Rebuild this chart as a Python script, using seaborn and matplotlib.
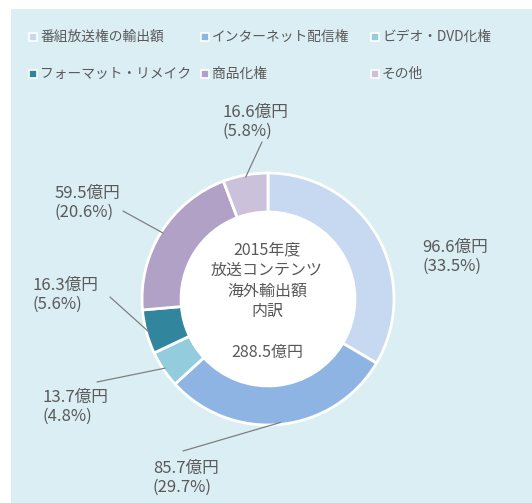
import numpy as np
import matplotlib
matplotlib.use("Agg")
import matplotlib.pyplot as plt
from matplotlib.patches import Rectangle
import seaborn as sns

# Export value breakdown (億円)
categories = ["番組放送権の輸出額", "インターネット配信権", "ビデオ・DVD化権",
              "フォーマット・リメイク", "商品化権", "その他"]
values = [96.6, 85.7, 13.7, 16.3, 59.5, 16.6]
shares = [33.5, 29.7, 4.8, 5.6, 20.6, 5.8]
total_label = "288.5億円"
center_lines = ["2015年度", "放送コンテンツ", "海外輸出額", "内訳", "", total_label]
colors = ["#C6D9F0", "#8EB4E3", "#93CDDD", "#31859C", "#B2A1C7", "#CCC1DA"]

sns.set_theme(style="white")
plt.rcParams["font.family"] = ["Noto Sans CJK JP", "DejaVu Sans"]

W, H = 532, 503
fig = plt.figure(figsize=(W / 100, H / 100), dpi=100)
ax = fig.add_axes([0, 0, 1, 1])

text_color = "#595959"

# light panel behind the chart
ax.add_patch(Rectangle((11, 0), W - 11, H - 9, facecolor="#DAEEF3",
                       edgecolor="none", zorder=0))

# donut
cx, cy, r_out = 268, H - 299, 126
ring = 0.31
wedges, _ = ax.pie(values, colors=colors, startangle=90, counterclock=False,
                   center=(cx, cy), radius=r_out, frame=True,
                   wedgeprops=dict(width=r_out * ring, edgecolor="white",
                                   linewidth=2))
ax.set_xlim(0, W)
ax.set_ylim(0, H)
ax.set_aspect("equal")
ax.axis("off")
ax.add_patch(plt.Circle((cx, cy), r_out * (1 - ring) - 1, color="white", zorder=1))

# centre caption
for i, line in enumerate(center_lines):
    ax.text(cx - 1, H - 250 - i * 20.5, line, ha="center", va="center",
            fontsize=11.5, color=text_color, zorder=3)

# value labels: left edge / vertical centre of each text block, plus leader end
label_pos = [(422, 257), (153, 478), (42, 407), (33, 295), (55, 203), (223, 122)]
leader_end = [None, (183, 451), (97, 382), (110, 297), (123, 211), (262, 142)]

for w, v, s, (lx, ly), le in zip(wedges, values, shares, label_pos, leader_end):
    ax.text(lx, H - ly, f"{v}億円\n({s}%)", ha="left", va="center",
            fontsize=12, color=text_color, linespacing=1.2, zorder=3)
    if le is not None:
        mid = np.deg2rad((w.theta1 + w.theta2) / 2)
        px = cx + (r_out - 2) * np.cos(mid)
        py = cy + (r_out - 2) * np.sin(mid)
        ax.plot([le[0], px], [H - le[1], py], color="#7F7F7F", lw=0.9, zorder=2)

# legend as coloured squares with captions
leg_x = [33, 205, 375]
leg_y = [37, 74]
for i, (cat, col) in enumerate(zip(categories, colors)):
    x = leg_x[i % 3]
    y = H - leg_y[i // 3]
    ax.scatter([x], [y], marker="s", s=40, color=col, edgecolor="white",
               linewidth=1.2, zorder=3)
    ax.text(x + 7, y, cat, ha="left", va="center", fontsize=9.9,
            color=text_color, zorder=3)

fig.savefig("out.png", dpi=100, facecolor="white")
